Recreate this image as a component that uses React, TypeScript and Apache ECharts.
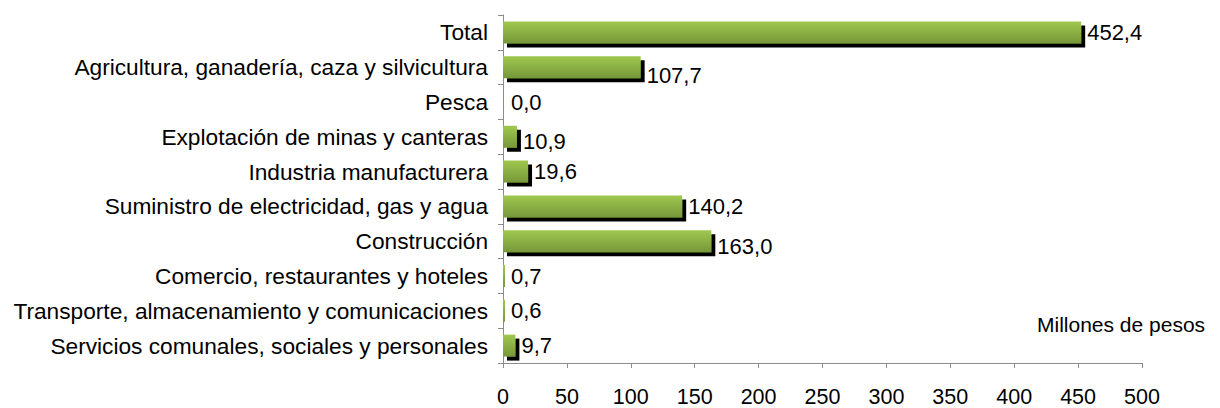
import React, { useEffect, useRef } from "react";
import * as echarts from "echarts";

const categories = [
  "Total",
  "Agricultura, ganadería, caza y silvicultura",
  "Pesca",
  "Explotación de minas y canteras",
  "Industria manufacturera",
  "Suministro de electricidad, gas y agua",
  "Construcción",
  "Comercio, restaurantes y hoteles",
  "Transporte, almacenamiento y comunicaciones",
  "Servicios comunales, sociales y personales",
];
const values = [452.4, 107.7, 0.0, 10.9, 19.6, 140.2, 163.0, 0.7, 0.6, 9.7];
const unitLabel = "Millones de pesos";

const FONT = "Arial, 'Liberation Sans', Helvetica, sans-serif";
// small vertical label shifts seen in the reference (by category index)
const labelShift: Record<number, number> = { 1: 8, 3: 5, 6: 5 };

export default function App() {
  const ref = useRef<HTMLDivElement>(null);
  useEffect(() => {
    if (!ref.current) return;
    const chart = echarts.init(ref.current, null, { renderer: "svg" });
    const cats = [...categories].reverse();
    const n = categories.length;
    const data = [...values].reverse().map((v, i) => {
      const orig = n - 1 - i;
      const dy = labelShift[orig] || 0;
      const item: any = { value: v };
      if (dy) item.label = { offset: [0, dy] };
      if (v === 0) item.itemStyle = { color: "transparent", shadowColor: "transparent" };
      return item;
    });
    chart.setOption({
      animation: false,
      grid: { left: 503, right: 78, top: 15, bottom: 42, containLabel: false },
      xAxis: {
        type: "value",
        min: 0,
        max: 500,
        interval: 50,
        axisLine: { show: true, lineStyle: { color: "#8c8c8c", width: 1 } },
        axisTick: { show: true, length: 5, lineStyle: { color: "#8c8c8c" } },
        splitLine: { show: false },
        axisLabel: { color: "#000", fontSize: 21.5, fontFamily: FONT, margin: 23 },
      },
      yAxis: {
        type: "category",
        data: cats,
        axisLine: { show: true, lineStyle: { color: "#8c8c8c", width: 1 } },
        axisTick: { show: true, length: 5, lineStyle: { color: "#8c8c8c" } },
        axisLabel: { color: "#000", fontSize: 22.7, fontFamily: FONT, margin: 15 },
      },
      series: [
        {
          type: "bar",
          data,
          barWidth: 22,
          barMinHeight: 2,
          itemStyle: {
            color: new echarts.graphic.LinearGradient(0, 0, 0, 1, [
              { offset: 0, color: "#a0c84f" },
              { offset: 1, color: "#769739" },
            ]),
            shadowColor: "#000",
            shadowBlur: 0,
            shadowOffsetX: 4,
            shadowOffsetY: 4,
          },
          label: {
            show: true,
            position: "right",
            distance: 6,
            color: "#000",
            fontSize: 22,
            fontFamily: FONT,
            formatter: (p: any) => Number(p.value).toFixed(1).replace(".", ","),
          },
        },
      ],
      graphic: [
        {
          type: "text",
          left: 1037,
          top: 314,
          style: { text: unitLabel, fontSize: 21, fontFamily: FONT, fill: "#000" },
        },
      ],
    });
    return () => chart.dispose();
  }, []);
  return (
    <div
      ref={ref}
      style={{ position: "absolute", left: 0, top: 0, width: 1220, height: 408 }}
    />
  );
}
